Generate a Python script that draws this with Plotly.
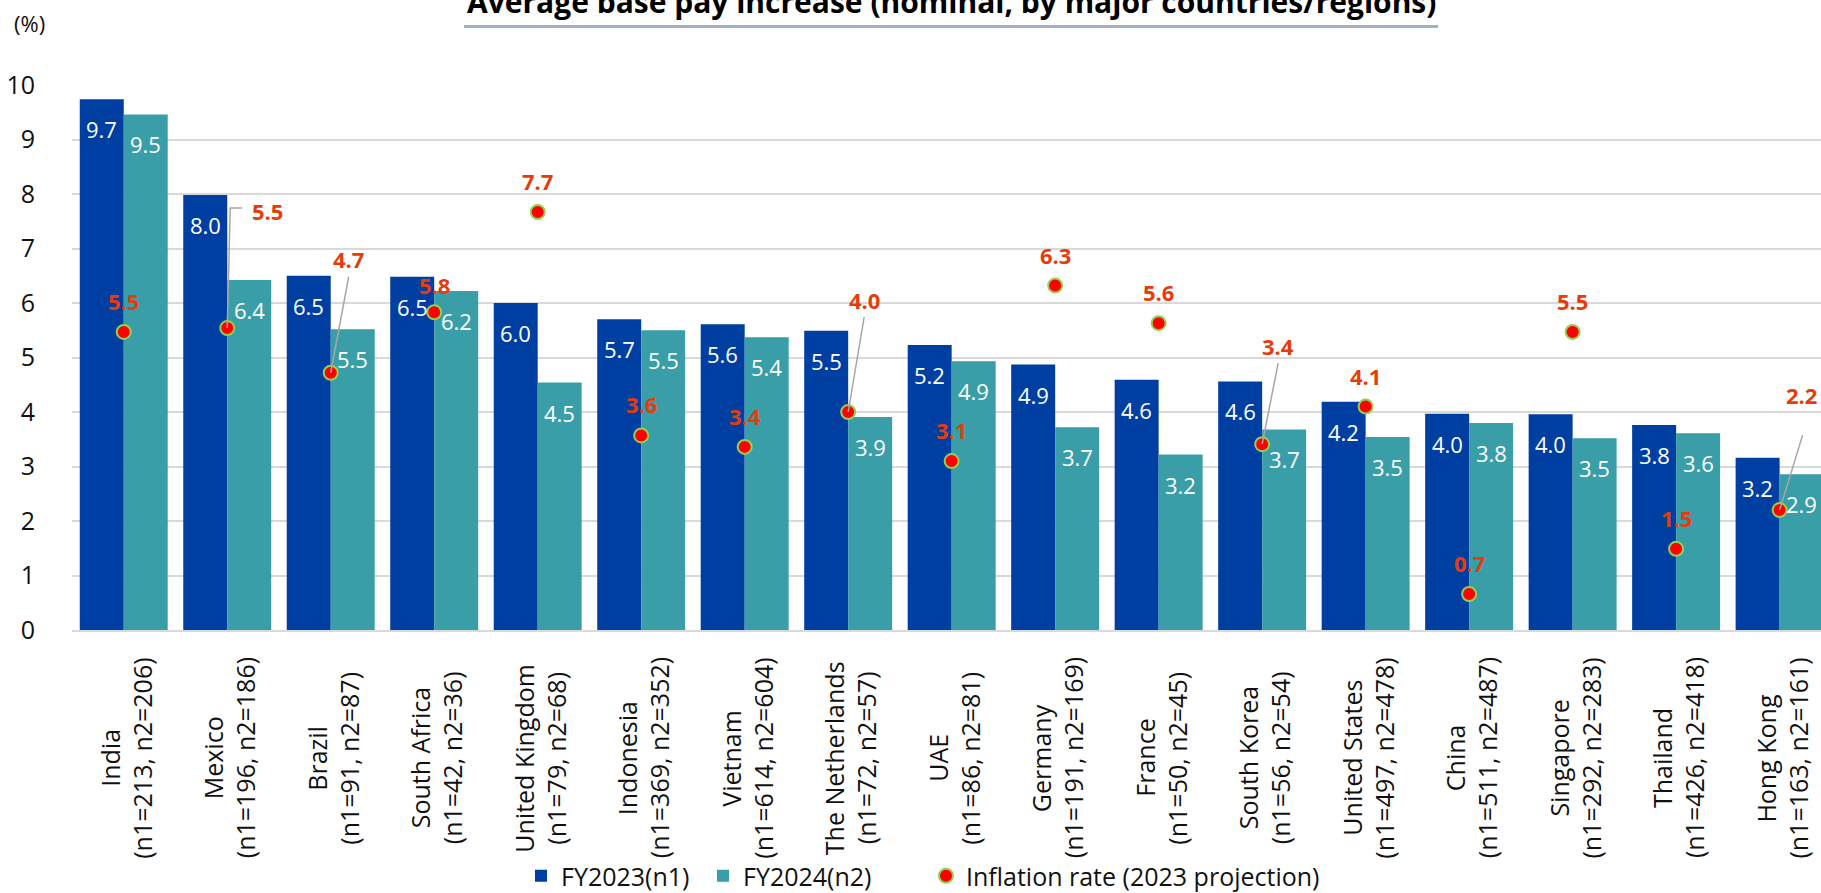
import plotly.graph_objects as go

countries = ["India", "Mexico", "Brazil", "South Africa", "United Kingdom", "Indonesia",
             "Vietnam", "The Netherlands", "UAE", "Germany", "France", "South Korea",
             "United States", "China", "Singapore", "Thailand", "Hong Kong"]
n1 = [213, 196, 91, 42, 79, 369, 614, 72, 86, 191, 50, 56, 497, 511, 292, 426, 163]
n2 = [206, 186, 87, 36, 68, 352, 604, 57, 81, 169, 45, 54, 478, 487, 283, 418, 161]
fy2023 = [9.74, 7.98, 6.50, 6.48, 6.00, 5.70, 5.61, 5.49, 5.23, 4.87, 4.59, 4.56,
          4.19, 3.97, 3.96, 3.76, 3.16]
fy2024 = [9.46, 6.42, 5.52, 6.22, 4.54, 5.50, 5.37, 3.91, 4.93, 3.72, 3.22, 3.68,
          3.54, 3.80, 3.52, 3.61, 2.86]
inflation = [5.47, 5.54, 4.72, 5.83, 7.67, 3.57, 3.36, 4.00, 3.10, 6.32, 5.63, 3.41,
             4.10, 0.66, 5.47, 1.49, 2.20]

TITLE = "Average base pay increase (nominal, by major countries/regions)"
FONT = "Open Sans"
BLUE = "#003fa2"
TEAL = "#3a9ea8"
LABEL_RED = "#e63c0c"
TXT = "#111111"

W, H = 1821, 893
ML, MR, MT, MB = 72, 0, 85, 263
PW, PH = W - ML - MR, H - MT - MB


def px_to_paper_x(px):
    return (px - ML) / PW


def px_to_paper_y(py):
    return (H - MB - py) / PH


# label offsets (pixels, y up) and leader lines for inflation labels
label_offsets = {i: (0, 31) for i in range(len(countries))}
label_offsets[3] = (0, 27)
leaders = {
    1: ((40, 117), "M0,0 L3,120 L15,120"),
    2: ((18, 114), "M0,0 L18,96"),
    7: ((16, 112), "M0,0 L16,95"),
    11: ((16, 98), "M0,0 L16,81"),
    16: ((22, 115), "M0,0 L23,75"),
}

fig = go.Figure()
fig.add_trace(go.Bar(x=countries, y=fy2023, name="FY2023(n1)", marker_color=BLUE,
                     marker_line_width=0, legend="legend"))
fig.add_trace(go.Bar(x=countries, y=fy2024, name="FY2024(n2)", marker_color=TEAL,
                     marker_line_width=0, legend="legend2"))
fig.add_trace(go.Scatter(x=countries, y=inflation, name="Inflation rate (2023 projection)",
                         mode="markers", legend="legend3",
                         marker=dict(size=14, color="#ff0000",
                                     line=dict(color="#92d050", width=2))))

annotations = []
shapes = []
bar_half = 22
for i, c in enumerate(countries):
    annotations.append(dict(x=c, y=fy2023[i], text=f"{fy2023[i]:.1f}", showarrow=False,
                            xshift=-bar_half, yshift=-30, yanchor="middle",
                            font=dict(family=FONT, size=22, color="white")))
    annotations.append(dict(x=c, y=fy2024[i], text=f"{fy2024[i]:.1f}", showarrow=False,
                            xshift=bar_half, yshift=-30, yanchor="middle",
                            font=dict(family=FONT, size=22, color="white")))
    if i in leaders:
        (dx, dy), path = leaders[i]
        shapes.append(dict(type="path", xref="x", yref="y", xsizemode="pixel",
                           ysizemode="pixel", xanchor=i, yanchor=inflation[i], path=path,
                           line=dict(color="#a6a6a6", width=1.5)))
    else:
        dx, dy = label_offsets[i]
    annotations.append(dict(x=c, y=inflation[i], text=f"<b>{inflation[i]:.1f}</b>",
                            showarrow=False, xshift=dx, yshift=dy, yanchor="middle",
                            font=dict(family=FONT, size=22, color=LABEL_RED)))
    # category labels: two rotated, centred lines
    annotations.append(dict(x=c, y=0, text=c, showarrow=False, textangle=-90,
                            xanchor="center", yanchor="middle", xshift=-14, yshift=-128,
                            font=dict(family=FONT, size=25, color=TXT)))
    annotations.append(dict(x=c, y=0, text=f"(n1={n1[i]}, n2={n2[i]})", showarrow=False,
                            textangle=-90, xanchor="center", yanchor="middle",
                            xshift=18, yshift=-128,
                            font=dict(family=FONT, size=25, color=TXT)))

annotations.append(dict(xref="paper", yref="paper", x=px_to_paper_x(951),
                        y=px_to_paper_y(1.5), text=f"<b>{TITLE}</b>", showarrow=False,
                        xanchor="center", yanchor="middle",
                        font=dict(family=FONT, size=30, color="black")))
annotations.append(dict(xref="paper", yref="paper", x=px_to_paper_x(29),
                        y=px_to_paper_y(23), text="(%)", showarrow=False,
                        xanchor="center", yanchor="middle",
                        font=dict(family=FONT, size=22, color=TXT)))

shapes.append(dict(type="line", xref="paper", yref="paper",
                   x0=px_to_paper_x(464), x1=px_to_paper_x(1438),
                   y0=px_to_paper_y(26.5), y1=px_to_paper_y(26.5),
                   line=dict(color="#a4b0c6", width=3)))

legend_style = dict(orientation="h", xanchor="left", y=px_to_paper_y(876),
                    yanchor="middle", bgcolor="rgba(0,0,0,0)",
                    font=dict(family=FONT, size=25, color=TXT))

fig.update_layout(
    width=W, height=H,
    margin=dict(l=ML, r=MR, t=MT, b=MB, pad=0, autoexpand=False),
    paper_bgcolor="white", plot_bgcolor="white",
    barmode="group", bargap=0.15, bargroupgap=0,
    font=dict(family=FONT, color=TXT),
    showlegend=True,
    legend=dict(x=px_to_paper_x(521), **legend_style),
    legend2=dict(x=px_to_paper_x(703), **legend_style),
    legend3=dict(x=px_to_paper_x(926), **legend_style),
    annotations=annotations,
    shapes=shapes,
)
fig.update_xaxes(type="category", range=[-0.5, 16.4], showticklabels=False,
                 showgrid=False, showline=True, linecolor="#d9d9d9", linewidth=2,
                 ticks="", zeroline=False, fixedrange=True)
fig.update_yaxes(range=[0, 10], dtick=1, showgrid=True, gridcolor="#d9d9d9",
                 gridwidth=2, zeroline=False, showline=False, ticks="",
                 ticklabelstandoff=36,
                 tickfont=dict(family=FONT, size=25, color=TXT), fixedrange=True)

fig.write_html("out.html", config={"displayModeBar": False},
               post_script="document.body.style.margin='0';"
                           "document.body.style.overflow='hidden';")
